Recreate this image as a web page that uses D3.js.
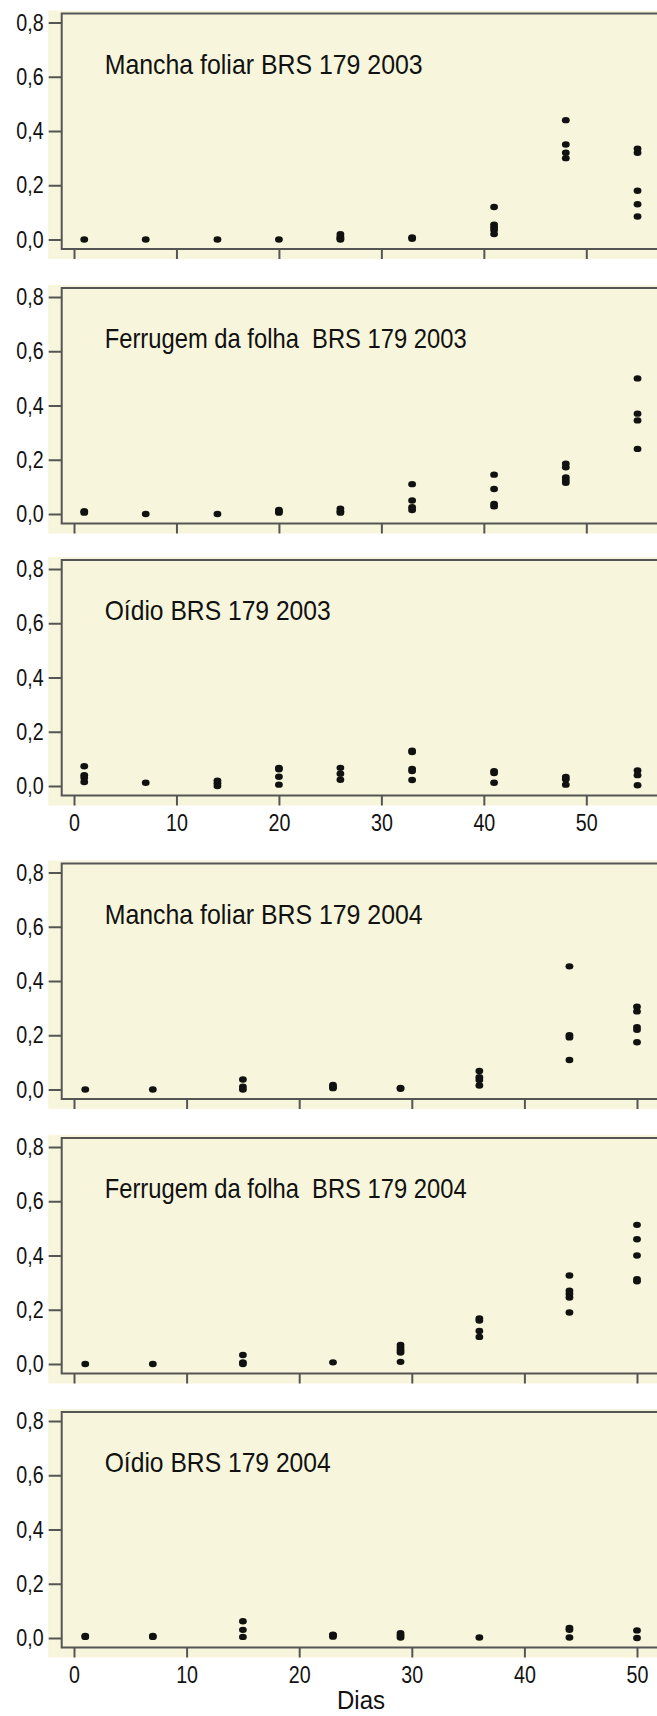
<!DOCTYPE html>
<html>
<head>
<meta charset="utf-8">
<script src="https://cdn.jsdelivr.net/npm/d3@7"></script>
<style>
    body { margin: 0; background: #fff; }
    text { font-family: "Liberation Sans", Arial, sans-serif; fill: #111; }
</style>
</head>
<body>
<svg id="chart" width="657" height="1716"></svg>
<script>
// sampling days per season
const days2003 = [1, 7, 14, 20, 26, 33, 41, 48, 55];
const days2004 = [1, 7, 15, 23, 29, 36, 44, 50];
const xTicks = [0, 10, 20, 30, 40, 50];
const yTicks = [0, 0.2, 0.4, 0.6, 0.8];
const xLabel = 'Dias';

const titles = [
    'Mancha foliar BRS 179 2003',
    'Ferrugem da folha  BRS 179 2003',
    'Oídio BRS 179 2003',
    'Mancha foliar BRS 179 2004',
    'Ferrugem da folha  BRS 179 2004',
    'Oídio BRS 179 2004'
];

// severity per day (one list of plots per sampling day)
const manchaFoliar2003 = [
    [0], [0], [0], [0],
    [0, 0.005, 0.01, 0.02],
    [0.003, 0.008],
    [0.12, 0.055, 0.045, 0.035, 0.02],
    [0.44, 0.35, 0.32, 0.30],
    [0.335, 0.32, 0.18, 0.13, 0.085]
];
const ferrugem2003 = [
    [0.005, 0.01], [0], [0],
    [0.005, 0.01, 0.015],
    [0.005, 0.01, 0.02],
    [0.11, 0.05, 0.025, 0.015],
    [0.145, 0.092, 0.037, 0.028],
    [0.185, 0.172, 0.135, 0.125, 0.115],
    [0.50, 0.37, 0.345, 0.24]
];
const oidio2003 = [
    [0.073, 0.04, 0.03, 0.015],
    [0.012],
    [0, 0.01, 0.02],
    [0.067, 0.062, 0.034, 0.005],
    [0.067, 0.045, 0.023],
    [0.13, 0.125, 0.063, 0.055, 0.022],
    [0.055, 0.048, 0.012],
    [0.033, 0.025, 0.005],
    [0.057, 0.04, 0.003]
];
const manchaFoliar2004 = [
    [0], [0],
    [0.037, 0.01, 0],
    [0.005, 0.01, 0.017],
    [0.003, 0.006],
    [0.068, 0.045, 0.035, 0.015],
    [0.454, 0.2, 0.192, 0.109],
    [0.305, 0.288, 0.23, 0.22, 0.174]
];
const ferrugem2004 = [
    [0], [0],
    [0.033, 0.006, 0],
    [0.006],
    [0.07, 0.06, 0.05, 0.042, 0.008],
    [0.168, 0.16, 0.122, 0.1],
    [0.326, 0.27, 0.258, 0.245, 0.19],
    [0.513, 0.46, 0.4, 0.313, 0.305]
];
const oidio2004 = [
    [0.004, 0.008], [0.004, 0.008],
    [0.062, 0.03, 0.004],
    [0.005, 0.01, 0.012],
    [0.018, 0.01, 0.002],
    [0.002],
    [0.037, 0.03, 0.002],
    [0.028, 0]
];

const series = [manchaFoliar2003, ferrugem2003, oidio2003, manchaFoliar2004, ferrugem2004, oidio2004];
const seriesDays = [days2003, days2003, days2003, days2004, days2004, days2004];

// layout
const W = 657;
const panelTops = [13.5, 288, 560, 863.5, 1138, 1412];
const panelH = 235.5;
const frameLeft = 61.7;
const bgLeft = 48.3;
const narrow = 0.82; // fake a narrow face by squeezing Liberation Sans
const axisColor = '#555';
const bgColor = '#f7f6dc';

const svg = d3.select('#chart');
const fmt = d => d3.format('.1f')(d).replace('.', ',');

const xScales = {
    2003: d3.scaleLinear().domain([0, 50]).range([74, 586.3]),
    2004: d3.scaleLinear().domain([0, 50]).range([74, 637])
};

series.forEach((values, i) => {
    const top = panelTops[i];
    const bottom = top + panelH;
    const x = i < 3 ? xScales[2003] : xScales[2004];
    const y = d3.scaleLinear().domain([0, 0.8]).range([top + 9 + 217, top + 9]);
    const showLabels = i === 2 || i === 5;

    const g = svg.append('g');

    g.append('rect')
        .attr('x', bgLeft)
        .attr('y', top - 3)
        .attr('width', W - bgLeft)
        .attr('height', panelH + 13)
        .style('fill', bgColor);

    // frame (right side runs off the page)
    g.append('rect')
        .attr('x', frameLeft)
        .attr('y', top)
        .attr('width', W - frameLeft + 20)
        .attr('height', panelH)
        .style('fill', 'none')
        .style('stroke', axisColor)
        .style('stroke-width', 2);

    const yAxis = g.append('g')
        .attr('transform', `translate(${frameLeft},0)`)
        .call(d3.axisLeft(y).tickValues(yTicks).tickSize(13).tickPadding(5).tickFormat(fmt));

    const xAxis = g.append('g')
        .attr('transform', `translate(0,${bottom})`)
        .call(d3.axisBottom(x).tickValues(xTicks).tickSize(10).tickPadding(8)
            .tickFormat(showLabels ? d3.format('d') : ''));

    [yAxis, xAxis].forEach(a => {
        a.select('.domain').remove();
        a.selectAll('line').style('stroke', axisColor).style('stroke-width', 2);
        a.selectAll('text')
            .style('font-size', '24px')
            .style('font-family', '"Liberation Sans", Arial, sans-serif')
            .style('fill', '#111');
    });
    yAxis.selectAll('text')
        .attr('x', -18 / narrow)
        .attr('transform', `scale(${narrow},1)`);
    xAxis.selectAll('text')
        .attr('transform', `scale(${narrow},1)`);

    g.append('text')
        .attr('x', 104.7)
        .attr('y', top + 60)
        .attr('textLength', [318, 362, 226, 318, 362, 226][i])
        .attr('lengthAdjust', 'spacingAndGlyphs')
        .style('font-size', '28px')
        .style('white-space', 'pre')
        .text(titles[i]);

    const pts = [];
    values.forEach((col, j) => col.forEach(v => pts.push({ day: seriesDays[i][j], v })));

    g.selectAll('ellipse')
        .data(pts)
        .enter()
        .append('ellipse')
        .attr('cx', d => x(d.day))
        .attr('cy', d => y(d.v))
        .attr('rx', 3.9)
        .attr('ry', 3.2)
        .style('fill', '#111');
});

svg.append('text')
    .attr('x', 337)
    .attr('y', 1709)
    .attr('textLength', 48)
    .attr('lengthAdjust', 'spacingAndGlyphs')
    .style('font-size', '25px')
    .text(xLabel);
</script>
</body>
</html>
